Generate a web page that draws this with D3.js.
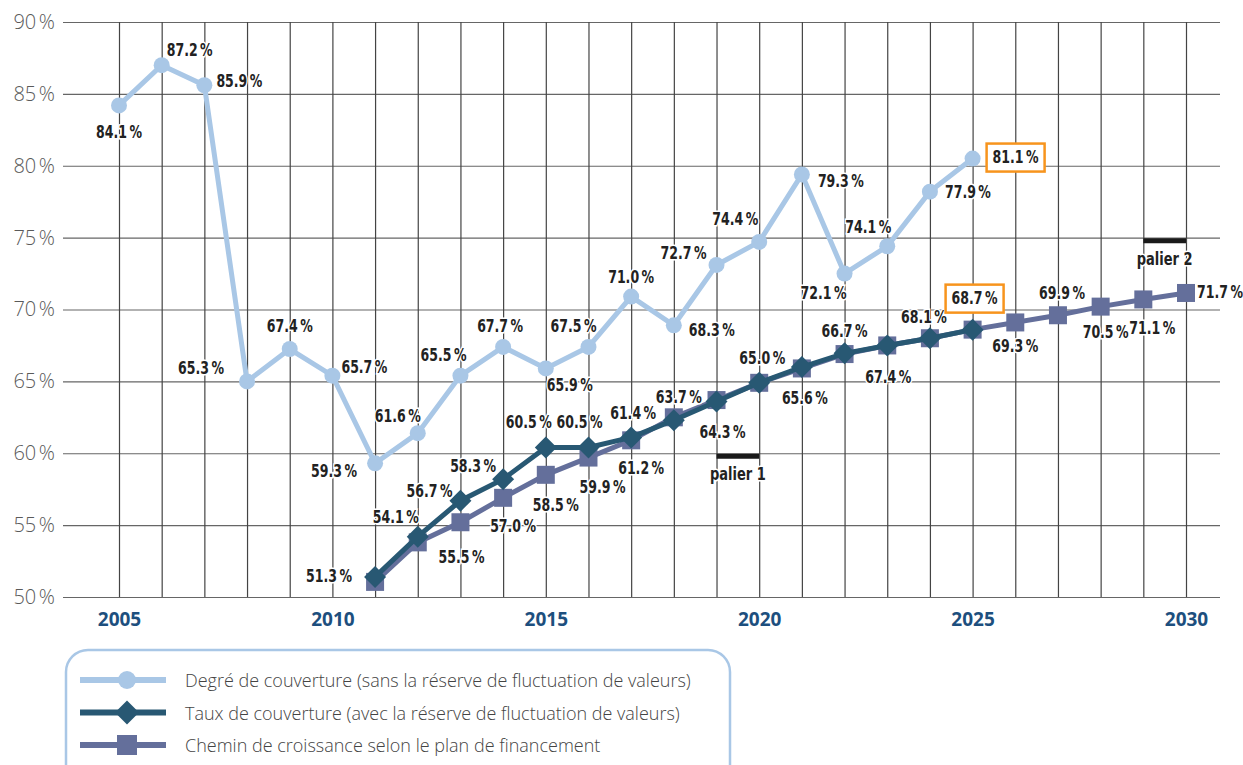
<!DOCTYPE html>
<html>
<head>
<meta charset="utf-8">
<script src="https://cdn.jsdelivr.net/npm/d3@7"></script>
<style>
  body { margin: 0; background: #fff; }
  svg { display: block; }
</style>
</head>
<body>
<svg id="mainSvg" width="1243" height="765"></svg>
<script>
// data
let yearsDegre = d3.range(2005, 2026)
let valuesDegre = [84.2, 87.0, 85.6, 65.0, 67.25, 65.4, 59.3, 61.4, 65.4, 67.4, 65.9,
    67.4, 70.9, 68.9, 73.1, 74.7, 79.4, 72.5, 74.4, 78.2, 80.5]
let labelsDegre = ['84.1', '87.2', '85.9', '65.3', '67.4', '65.7', '59.3', '61.6', '65.5', '67.7', '65.9',
    '67.5', '71.0', '68.3', '72.7', '74.4', '79.3', '72.1', '74.1', '77.9', '81.1']

let yearsTaux = d3.range(2011, 2026)
let valuesTaux = [51.4, 54.2, 56.7, 58.2, 60.4, 60.4, 61.1, 62.3, 63.6, 64.9, 66.0, 66.95, 67.5, 68.0, 68.6]
let labelsTaux = ['51.3', '54.1', '56.7', '58.3', '60.5', '60.5', '61.4', '63.7', '64.3', '65.0', '65.6',
    '66.7', '67.4', '68.1', '68.7']

let yearsChemin = d3.range(2011, 2031)
let valuesChemin = [51.05, 53.8, 55.2, 56.9, 58.5, 59.7, 60.9, 62.5, 63.7, 64.9, 65.9, 66.9, 67.5, 68.0,
    68.6, 69.1, 69.6, 70.2, 70.7, 71.15]
let labelsChemin = {2013: '55.5', 2014: '57.0', 2015: '58.5', 2016: '59.9', 2017: '61.2',
    2026: '69.3', 2027: '69.9', 2028: '70.5', 2029: '71.1', 2030: '71.7'}

let yTicks = [50, 55, 60, 65, 70, 75, 80, 85, 90]
let xLabelYears = [2005, 2010, 2015, 2020, 2025, 2030]

let paliers = [
    {name: 'palier 1', from: 2019, to: 2020, level: 60},
    {name: 'palier 2', from: 2029, to: 2030, level: 75}
]
let boxedLabels = [['degre', 2025], ['taux', 2025]]

let legendNames = [
    'Degré de couverture (sans la réserve de fluctuation de valeurs)',
    'Taux de couverture (avec la réserve de fluctuation de valeurs)',
    'Chemin de croissance selon le plan de financement'
]

// label offsets (px from the point, text centre)
let offDegre = [[0, 27], [28, -15], [35, -4], [-46, -13], [0, -22], [32, -8], [-41, 8], [-20, -17],
    [-17, -20], [-3, -20], [24, 17], [-15, -20], [0, -19], [38, 5], [-33, -11], [-24, -22], [39, 7],
    [-21, 20], [-19, -19], [38, 1], [43, -1]]
let offTaux = [[-46, 0], [-22, -19], [-31, -9], [-30, -13], [-17, -25], [-9, -25], [2, -24], [5, -23],
    [6, 31], [3, -24], [3, 32], [0, -22], [1, 32], [-6, -21], [2, -31]]
let offChemin = {2013: [1, 35], 2014: [10, 29], 2015: [10, 31], 2016: [14, 30], 2017: [10, 28],
    2026: [0, 24], 2027: [4, -22], 2028: [5, 26], 2029: [9, 29], 2030: [34, 0]}

let cLight = '#a9c7e6'
let cDark = '#285873'
let cSlate = '#646f9b'
let cOrange = '#f7941d'
let labelFont = '"DejaVu Sans Condensed", "Liberation Sans Narrow", sans-serif'

let svg = d3.select('#mainSvg')

let x = d3.scaleLinear().domain([2005, 2030]).range([119, 1186])
let y = d3.scaleLinear().domain([50, 90]).range([597, 22])
let gridLeft = 63, gridRight = 1220

// horizontal grid + y labels
let yAxis = svg.append('g')
    .attr('transform', 'translate(' + gridLeft + ',0)')
    .call(d3.axisLeft(y).tickValues(yTicks).tickSize(-(gridRight - gridLeft)).tickPadding(8)
        .tickFormat(d => d + '\u202F%'))
yAxis.select('.domain').remove()
yAxis.selectAll('line').attr('stroke', '#666').attr('stroke-width', 1.2)
yAxis.selectAll('text')
    .attr('font-family', '"Open Sans", sans-serif')
    .attr('font-weight', 300)
    .attr('font-size', 20)
    .attr('fill', '#5a5a5a')

// vertical grid + year labels
let xAxis = svg.append('g')
    .attr('transform', 'translate(0,' + y(50) + ')')
    .call(d3.axisBottom(x).tickValues(d3.range(2005, 2031)).tickSize(-(y(50) - y(90))).tickPadding(16)
        .tickFormat(d => xLabelYears.includes(d) ? String(d) : ''))
xAxis.select('.domain').remove()
xAxis.selectAll('line').attr('stroke', '#444').attr('stroke-width', 1.2)
xAxis.selectAll('text')
    .attr('font-family', '"Open Sans", sans-serif')
    .attr('font-weight', 700)
    .attr('font-size', 19)
    .attr('fill', '#1d4f7e')

// paliers
paliers.forEach(p => {
    svg.append('line')
        .attr('x1', x(p.from)).attr('x2', x(p.to))
        .attr('y1', y(p.level) + 3).attr('y2', y(p.level) + 3)
        .attr('stroke', '#1a1a1a').attr('stroke-width', 5)
    svg.append('text')
        .attr('transform', 'translate(' + ((x(p.from) + x(p.to)) / 2) + ',' + (y(p.level) + 21) + ') scale(0.85,1)')
        .attr('text-anchor', 'middle')
        .attr('dominant-baseline', 'central')
        .attr('font-family', labelFont)
        .attr('font-weight', 700)
        .attr('font-size', 17)
        .attr('fill', '#222')
        .attr('stroke', '#fff').attr('stroke-width', 3).attr('paint-order', 'stroke')
        .text(p.name)
})

let line = d3.line().x(d => x(d[0])).y(d => y(d[1]))

let chemin = d3.zip(yearsChemin, valuesChemin)
let taux = d3.zip(yearsTaux, valuesTaux)
let degre = d3.zip(yearsDegre, valuesDegre)

// chemin de croissance
svg.append('path').attr('d', line(chemin))
    .attr('fill', 'none').attr('stroke', cSlate).attr('stroke-width', 5)
svg.append('g').selectAll('rect').data(chemin).enter().append('rect')
    .attr('x', d => x(d[0]) - 9).attr('y', d => y(d[1]) - 9)
    .attr('width', 18).attr('height', 18)
    .attr('fill', cSlate)

// taux de couverture
svg.append('path').attr('d', line(taux))
    .attr('fill', 'none').attr('stroke', cDark).attr('stroke-width', 5)
svg.append('g').selectAll('path').data(taux).enter().append('path')
    .attr('d', d => {
        let cx = x(d[0]), cy = y(d[1]), r = 11
        return 'M' + cx + ' ' + (cy - r) + 'L' + (cx + r) + ' ' + cy + 'L' + cx + ' ' + (cy + r) +
            'L' + (cx - r) + ' ' + cy + 'Z'
    })
    .attr('fill', cDark)

// degre de couverture
svg.append('path').attr('d', line(degre))
    .attr('fill', 'none').attr('stroke', cLight).attr('stroke-width', 5)
svg.append('g').selectAll('circle').data(degre).enter().append('circle')
    .attr('cx', d => x(d[0])).attr('cy', d => y(d[1])).attr('r', 8)
    .attr('fill', cLight)

// value labels
let labelData = []
degre.forEach((d, i) => labelData.push({key: 'degre', year: d[0], v: d[1], t: labelsDegre[i], off: offDegre[i]}))
taux.forEach((d, i) => labelData.push({key: 'taux', year: d[0], v: d[1], t: labelsTaux[i], off: offTaux[i]}))
chemin.forEach(d => {
    if (labelsChemin[d[0]]) labelData.push({key: 'chemin', year: d[0], v: d[1], t: labelsChemin[d[0]], off: offChemin[d[0]]})
})

let labels = svg.append('g').selectAll('g').data(labelData).enter().append('g')
    .attr('transform', d => 'translate(' + (x(d.year) + d.off[0]) + ',' + (y(d.v) + d.off[1]) + ')')

labels.filter(d => boxedLabels.some(b => b[0] === d.key && b[1] === d.year))
    .append('rect')
    .attr('x', -29).attr('y', -14).attr('width', 58).attr('height', 28)
    .attr('fill', '#fff').attr('stroke', cOrange).attr('stroke-width', 2.5)

labels.append('text')
    .attr('transform', 'scale(0.82,1)')
    .attr('text-anchor', 'middle')
    .attr('dominant-baseline', 'central')
    .attr('font-family', labelFont)
    .attr('font-weight', 700)
    .attr('font-size', 17)
    .attr('fill', '#222')
    .attr('stroke', '#fff').attr('stroke-width', 3).attr('paint-order', 'stroke')
    .text(d => d.t + '\u202F%')

// legend
let legend = svg.append('g')
legend.append('rect')
    .attr('x', 66).attr('y', 650).attr('width', 664).attr('height', 160)
    .attr('rx', 22)
    .attr('fill', '#fff').attr('stroke', cLight).attr('stroke-width', 2.5)

let legendRows = legend.selectAll('g').data(legendNames).enter().append('g')
    .attr('transform', (d, i) => 'translate(0,' + (680 + i * 32.5) + ')')
let legendColors = [cLight, cDark, cSlate]
legendRows.append('line')
    .attr('x1', 80).attr('x2', 166)
    .attr('stroke', (d, i) => legendColors[i]).attr('stroke-width', 6)
legendRows.each(function (d, i) {
    let g = d3.select(this)
    if (i === 0) g.append('circle').attr('cx', 127).attr('r', 9).attr('fill', cLight)
    if (i === 1) g.append('path').attr('d', 'M127 -12L139 0L127 12L115 0Z').attr('fill', cDark)
    if (i === 2) g.append('rect').attr('x', 117).attr('y', -10).attr('width', 20).attr('height', 20).attr('fill', cSlate)
})
legendRows.append('text')
    .attr('x', 185)
    .attr('dominant-baseline', 'central')
    .attr('font-family', '"Open Sans", sans-serif')
    .attr('font-weight', 300)
    .attr('font-size', 18)
    .attr('fill', '#444')
    .text(d => d)
</script>
</body>
</html>
